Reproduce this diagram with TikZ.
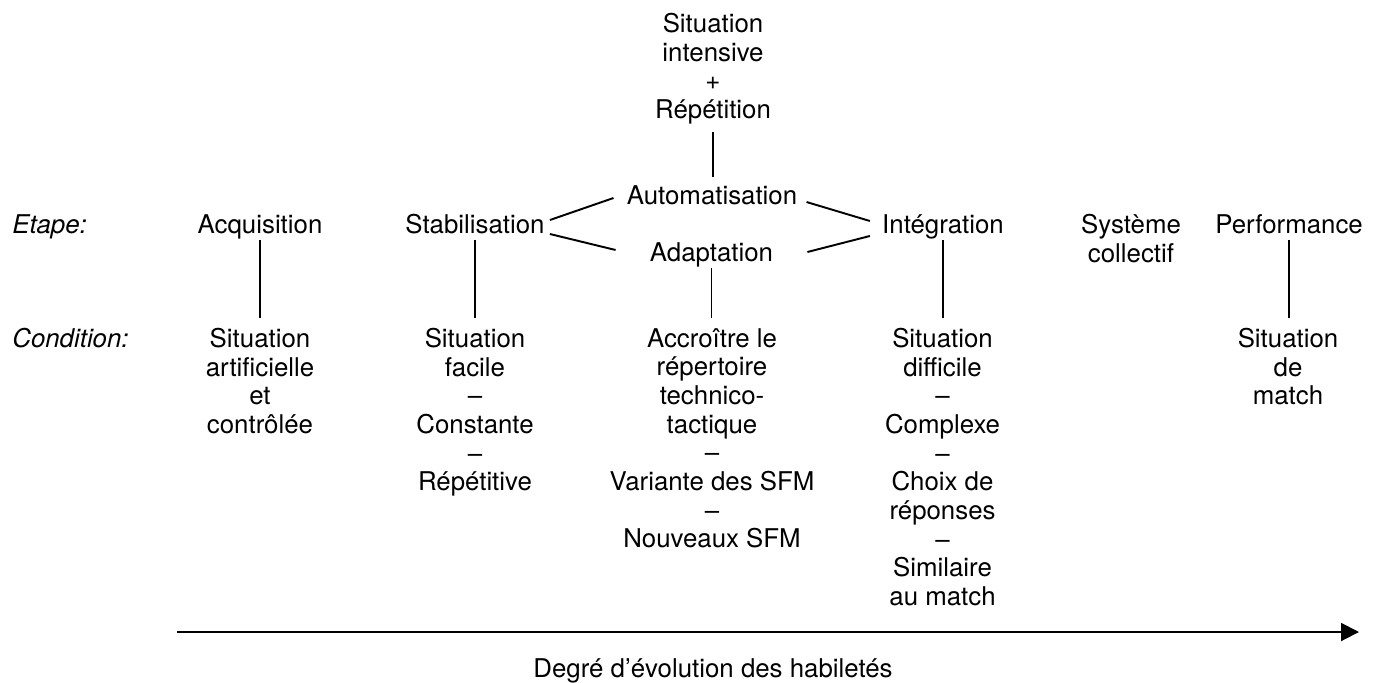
\documentclass[tikz,border=0pt]{standalone}
\usepackage{fontspec}
\setmainfont{TeX Gyre Heros}
\usetikzlibrary{arrows.meta}

\tikzset{
  txt/.style={font=\fontsize{14.7}{16.3}\selectfont, inner sep=0pt},
  stage/.style={txt, anchor=base, text depth=0.13cm},
  cond/.style={txt, anchor=north, align=center},
  link/.style={line width=1.1pt},
  down/.style={link, shorten >=0.2cm},
}

\begin{document}
\begin{tikzpicture}
  \useasboundingbox (0,0) rectangle (27.58,13.64);
  % row labels
  \node[stage, anchor=base west] (etape) at (0.24,8.98) {\itshape Etape:};
  \node[stage, anchor=base west] (cond) at (0.24,6.70) {\itshape Condition:};
  % stages
  \node[cond] (rep) at (14.26,13.38) {Situation\\intensive\\+\\Répétition};
  \node[stage] (auto) at (14.24,9.56) {Automatisation};
  \node[stage] (adapt) at (14.23,8.42) {Adaptation};
  \node[stage] (acq) at (5.20,8.98) {Acquisition};
  \node[stage] (stab) at (9.50,8.98) {Stabilisation};
  \node[stage] (integ) at (18.86,8.98) {Intégration};
  \node[cond] (sys) at (22.62,9.36) {Système\\collectif};
  \node[stage] (perf) at (25.78,8.98) {Performance};
  % conditions
  \node[cond] (acqc) at (5.20,7.08) {Situation\\artificielle\\et\\contrôlée};
  \node[cond] (stabc) at (9.50,7.08) {Situation\\facile\\–\\Constante\\–\\Répétitive};
  \node[cond] (adaptc) at (14.24,7.08) {Accroître le\\répertoire\\technico-\\tactique\\–\\Variante des SFM\\–\\Nouveaux SFM};
  \node[cond] (integc) at (18.85,7.08) {Situation\\difficile\\–\\Complexe\\–\\Choix de\\réponses\\–\\Similaire\\au match};
  \node[cond] (perfc) at (25.76,7.08) {Situation\\de\\match};
  % links
  \draw[link, shorten <=0.15cm, shorten >=0.16cm] (rep.south) -- (rep.south |- auto.north);
  \draw[link] ([shift={(0.10,0.26)}]stab.base east) -- ([shift={(-0.26,0.12)}]auto.base west);
  \draw[link] ([shift={(0.10,-0.02)}]stab.base east) -- ([shift={(-0.68,0.22)}]adapt.base west);
  \draw[link] ([shift={(0.18,0.04)}]auto.base east) -- ([shift={(-0.24,0.24)}]integ.base west);
  \draw[link] ([shift={(0.68,0.18)}]adapt.base east) -- ([shift={(-0.24,-0.06)}]integ.base west);
  \draw[down] (acq.south) -- (acq.south |- acqc.north);
  \draw[down] (stab.south) -- (stab.south |- stabc.north);
  \draw[down] (adapt.south) -- (adapt.south |- adaptc.north);
  \draw[down] (integ.south) -- (integ.south |- integc.north);
  \draw[down] (perf.south) -- (perf.south |- perfc.north);
  % axis
  \coordinate (axisstart) at (3.54,1.0);
  \coordinate (axisend) at (27.18,1.0);
  \draw[link, -{Triangle[length=0.36cm,width=0.36cm]}] (axisstart) -- (axisend);
  \node[stage] (deg) at (14.26,0.10) {Degré d’évolution des habiletés};
\end{tikzpicture}
\end{document}
